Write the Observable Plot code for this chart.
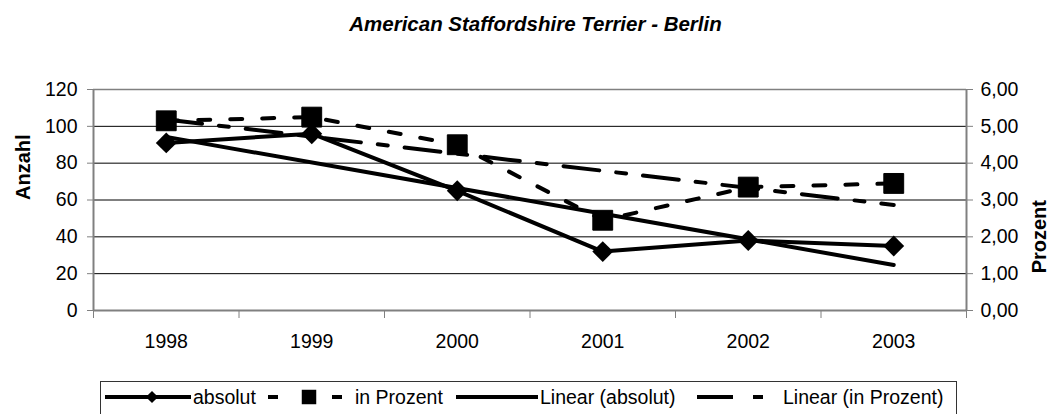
<!DOCTYPE html>
<html>
<head>
<meta charset="utf-8">
<script src="https://cdn.jsdelivr.net/npm/d3@7"></script>
<script src="https://cdn.jsdelivr.net/npm/@observablehq/plot@0.6"></script>
<style>
  html, body { margin: 0; padding: 0; background: #fff; }
  #wrap { position: relative; width: 1051px; height: 414px; overflow: hidden; font-family: "Liberation Sans", Arial, sans-serif; }
  #title { position: absolute; left: 10px; top: 0; width: 1051px; height: 50px; text-align: center;
           font: italic bold 20.5px "Liberation Sans", Arial, sans-serif; line-height: 1; padding-top: 14px; box-sizing: border-box; }
  #chart { position: absolute; left: 0; top: 50px; }
  #legend { position: absolute; left: 0; top: 375px; }
</style>
</head>
<body>
<div id="wrap">
  <div id="title">American Staffordshire Terrier - Berlin</div>
  <div id="chart"></div>
  <div id="legend"></div>
</div>
<script>
const years = [1998, 1999, 2000, 2001, 2002, 2003];
const absolut = [91, 96, 65, 32, 38, 35];
const prozent = [5.15, 5.25, 4.50, 2.45, 3.35, 3.45];
const leftTicks = [0, 20, 40, 60, 80, 100, 120];
const rightMax = 6;
const leftMax = 120;
const seriesNames = ["absolut", "in Prozent", "Linear (absolut)", "Linear (in Prozent)"];

const factor = leftMax / rightMax;
const data = years.map((y, i) => ({year: y, a: absolut[i], p: prozent[i] * factor}));
const edges = years.map(y => y - 0.5).concat([years[years.length - 1] + 0.5]);
const xDomain = [edges[0], edges[edges.length - 1]];
const gray = "#808080";
const fs = "19.5px";

const chart = Plot.plot({
  width: 1051,
  height: 325,
  marginLeft: 93,
  marginRight: 85,
  marginTop: 39,
  marginBottom: 65,
  style: {fontFamily: "'Liberation Sans', Arial, sans-serif", fontSize: fs, background: "white", color: "black", overflow: "visible"},
  x: {domain: xDomain},
  y: {domain: [0, leftMax]},
  marks: [
    Plot.ruleY(leftTicks.filter(d => d > 0 && d < leftMax), {stroke: "black", strokeWidth: 1}),
    Plot.ruleY([leftMax], {stroke: gray, strokeWidth: 1.5}),
    Plot.ruleY([0], {stroke: gray, strokeWidth: 2}),
    Plot.ruleX([xDomain[0]], {stroke: gray, strokeWidth: 2}),
    Plot.ruleX([xDomain[1]], {stroke: gray, strokeWidth: 2}),
    Plot.axisY({ticks: leftTicks, tickSize: 6, tickPadding: 10, stroke: gray, fill: "black", fontSize: fs, label: null, tickFormat: d => String(d)}),
    Plot.axisY({anchor: "right", ticks: leftTicks, tickSize: 6, tickPadding: 8, stroke: gray, fill: "black", fontSize: fs, label: null,
      tickFormat: d => (d / factor).toFixed(2).replace(".", ",")}),
    Plot.axisX({ticks: edges, tickSize: 8, stroke: gray, tickFormat: () => "", label: null}),
    Plot.axisX({ticks: years, tickSize: 0, tickPadding: 24, fill: "black", fontSize: fs, label: null, tickFormat: d => String(d)}),
    Plot.text(["Anzahl"], {frameAnchor: "left", dx: -70, rotate: -90, fontWeight: "bold", fontSize: 20, fill: "black"}),
    Plot.text(["Prozent"], {frameAnchor: "right", dx: 73, rotate: -90, fontWeight: "bold", fontSize: 20, fill: "black"}),
    Plot.linearRegressionY(data, {x: "year", y: "a", ci: 0, stroke: "black", strokeWidth: 4}),
    Plot.linearRegressionY(data, {x: "year", y: "p", ci: 0, stroke: "black", strokeWidth: 4, strokeDasharray: "36,17,10,17"}),
    Plot.line(data, {x: "year", y: "a", stroke: "black", strokeWidth: 4, strokeLinejoin: "round"}),
    Plot.line(data, {x: "year", y: "p", stroke: "black", strokeWidth: 4, strokeDasharray: "12,20"}),
    Plot.dot(data, {x: "year", y: "a", symbol: "diamond2", r: 9.4, fill: "black", stroke: "none"}),
    Plot.dot(data, {x: "year", y: "p", symbol: "square", r: 11.2, fill: "black", stroke: "black", strokeWidth: 1, strokeLinejoin: "round"})
  ]
});
document.getElementById("chart").appendChild(chart);

// Legend
const lg = d3.select("#legend").append("svg").attr("width", 1051).attr("height", 39)
  .style("font-family", "'Liberation Sans', Arial, sans-serif").style("font-size", fs);
lg.append("rect").attr("x", 100.5).attr("y", 6.5).attr("width", 856).attr("height", 40)
  .attr("fill", "white").attr("stroke", "#333").attr("stroke-width", 1);
const ly = 22, tb = 29;
// absolut
lg.append("line").attr("x1", 105).attr("x2", 191).attr("y1", ly).attr("y2", ly).attr("stroke", "black").attr("stroke-width", 4);
lg.append("path").attr("transform", `translate(152,${ly})`).attr("d", d3.symbol(d3.symbolDiamond2, 95)()).attr("fill", "black");
lg.append("text").attr("x", 193).attr("y", tb).text(seriesNames[0]);
// in Prozent
lg.append("line").attr("x1", 268).attr("x2", 278).attr("y1", ly).attr("y2", ly).attr("stroke", "black").attr("stroke-width", 4);
lg.append("line").attr("x1", 332).attr("x2", 342).attr("y1", ly).attr("y2", ly).attr("stroke", "black").attr("stroke-width", 4);
lg.append("path").attr("transform", `translate(309,${ly})`).attr("d", d3.symbol(d3.symbolSquare, 210)()).attr("fill", "black");
lg.append("text").attr("x", 355).attr("y", tb).text(seriesNames[1]);
// Linear (absolut)
lg.append("line").attr("x1", 456).attr("x2", 538).attr("y1", ly).attr("y2", ly).attr("stroke", "black").attr("stroke-width", 4);
lg.append("text").attr("x", 540).attr("y", tb).text(seriesNames[2]);
// Linear (in Prozent)
lg.append("line").attr("x1", 697).attr("x2", 733).attr("y1", ly).attr("y2", ly).attr("stroke", "black").attr("stroke-width", 4);
lg.append("line").attr("x1", 753).attr("x2", 763).attr("y1", ly).attr("y2", ly).attr("stroke", "black").attr("stroke-width", 4);
lg.append("text").attr("x", 783).attr("y", tb).text(seriesNames[3]);
</script>
</body>
</html>
